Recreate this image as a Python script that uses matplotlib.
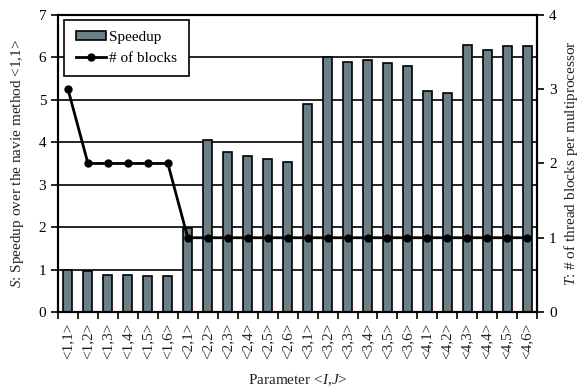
import numpy as np
import matplotlib
matplotlib.use('Agg')
import matplotlib.pyplot as plt
from matplotlib.lines import Line2D
from matplotlib.patches import Patch

plt.rcParams['font.family'] = ['Liberation Serif', 'DejaVu Serif']
plt.rcParams['mathtext.fontset'] = 'custom'
plt.rcParams['mathtext.it'] = 'Liberation Serif:italic'
plt.rcParams['mathtext.rm'] = 'Liberation Serif'

# Parameter pairs <I,J>
params = ['<1,1>', '<1,2>', '<1,3>', '<1,4>', '<1,5>', '<1,6>',
          '<2,1>', '<2,2>', '<2,3>', '<2,4>', '<2,5>', '<2,6>',
          '<3,1>', '<3,2>', '<3,3>', '<3,4>', '<3,5>', '<3,6>',
          '<4,1>', '<4,2>', '<4,3>', '<4,4>', '<4,5>', '<4,6>']

# Speedup over the naive method
speedup = [1.00, 0.97, 0.88, 0.86, 0.85, 0.85,
           1.97, 4.05, 3.78, 3.67, 3.60, 3.54,
           4.90, 6.00, 5.90, 5.95, 5.86, 5.80,
           5.20, 5.15, 6.30, 6.18, 6.28, 6.27]

# Thread blocks per multiprocessor
blocks = [3, 2, 2, 2, 2, 2,
          1, 1, 1, 1, 1, 1,
          1, 1, 1, 1, 1, 1,
          1, 1, 1, 1, 1, 1]

x = np.arange(len(params))
bar_color = '#6a7f88'

fig = plt.figure(figsize=(5.83, 3.89), dpi=100)
ax = fig.add_axes([0.0995, 0.198, 0.822, 0.7635])

ax.bar(x, speedup, width=0.45, color=bar_color, edgecolor='black', linewidth=1.2, zorder=2)
ax.set_axisbelow(True)
ax.yaxis.grid(True, color='black', linewidth=1.2)
ax.set_ylim(0, 7)
ax.set_xlim(-0.5, len(params) - 0.5)
ax.set_yticks(range(0, 8))

ax.set_xticks(x)
ax.set_xticklabels(params, rotation=90, fontsize=11, color='#222222')
ax.set_xticks(np.arange(-0.5, len(params)), minor=True)
ax.tick_params(axis='x', which='major', length=0, pad=8)
ax.tick_params(axis='x', which='minor', length=5, width=1.2, direction='out')
ax.tick_params(axis='y', labelsize=11, length=5, width=1.2)

for s in ax.spines.values():
    s.set_linewidth(1.5)

ax.set_ylabel(r'$\mathit{S}$: Speedup over the navie method <1,1>', fontsize=11, color='#222222', labelpad=9)
ax.set_xlabel(r'Parameter <$\mathit{I}$,$\mathit{J}$>', fontsize=11, color='#222222', labelpad=9)

ax2 = ax.twinx()
ax2.plot(x, blocks, color='black', linewidth=2, marker='o', markersize=5, zorder=3)
ax2.set_ylim(0, 4)
ax2.set_yticks(range(0, 5))
ax2.tick_params(axis='y', labelsize=11, length=5, width=1.2)
for s in ax2.spines.values():
    s.set_linewidth(1.5)
ax2.set_ylabel(r'$\mathit{T}$: # of thread blocks per multiprocessor', fontsize=11, color='#222222', labelpad=4)

handles = [Patch(facecolor=bar_color, edgecolor='black', linewidth=1.2),
           Line2D([0], [0], color='black', linewidth=2, marker='o', markersize=5)]
leg = ax2.legend(handles, ['Speedup', '# of blocks'], loc='upper left',
                 bbox_to_anchor=(0.0, 1.005), fontsize=11, fancybox=False,
                 framealpha=1, edgecolor='black', handlelength=2.0,
                 handleheight=0.5, handletextpad=0.2, borderpad=0.75,
                 labelspacing=0.5, borderaxespad=0.4)
leg.get_frame().set_linewidth(1.2)

fig.savefig('out.png', dpi=100)
